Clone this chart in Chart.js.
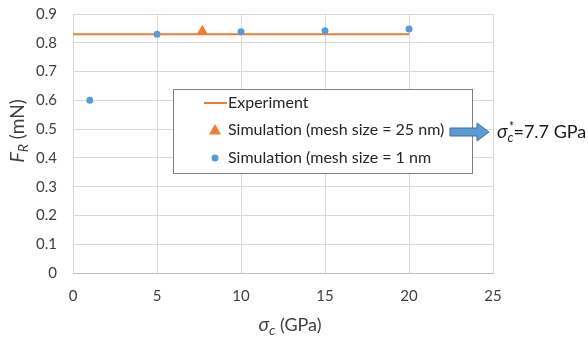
<!DOCTYPE html>
<html><head><meta charset="utf-8">
<script src="https://cdn.jsdelivr.net/npm/chart.js@4/dist/chart.umd.min.js"></script>
<style>html,body{margin:0;padding:0;background:#fff}#wrap{width:588px;height:338px}</style>
</head><body><div id="wrap"><canvas id="c" width="588" height="338"></canvas></div>
<script>
const xTicks = [0, 5, 10, 15, 20, 25];
const yTicks = [0, 0.1, 0.2, 0.3, 0.4, 0.5, 0.6, 0.7, 0.8, 0.9];
const expX = [0, 20];
const expY = [0.83, 0.83];
const sim25X = [7.7];
const sim25Y = [0.84];
const sim1X = [1, 5, 10, 15, 20];
const sim1Y = [0.6, 0.83, 0.838, 0.842, 0.848];
const labels = ['Experiment', 'Simulation (mesh size = 25 nm)', 'Simulation (mesh size = 1 nm'];

const ORANGE = '#ed7d31', BLUE = '#5b9bd5';
const toPts = (xs, ys) => xs.map((x, i) => ({x, y: ys[i]}));
const FONT = 'Lato, "Liberation Sans", sans-serif';

function drawRich(ctx, x, y, segs) {
  let cx = x;
  segs.forEach(s => {
    ctx.font = (s.italic ? 'italic ' : '') + s.size + 'px ' + FONT;
    ctx.fillText(s.t, cx + (s.dx || 0), y + (s.dy || 0));
    if (!s.noAdvance) cx += ctx.measureText(s.t).width;
  });
  return cx - x;
}
function richWidth(ctx, segs) {
  let w = 0;
  segs.forEach(s => { ctx.font = (s.italic ? 'italic ' : '') + s.size + 'px ' + FONT; if (!s.noAdvance) w += ctx.measureText(s.t).width; });
  return w;
}

const deco = {
  id: 'deco',
  afterDatasetsDraw(chart) {
    const ctx = chart.ctx;
    ctx.save();
    // legend box
    const lx = 173, ly = 89, lw = 299, lh = 84;
    ctx.fillStyle = '#fff';
    ctx.fillRect(lx, ly, lw, lh);
    ctx.strokeStyle = '#7f7f7f';
    ctx.lineWidth = 1;
    ctx.strokeRect(lx + 0.5, ly + 0.5, lw, lh);
    ctx.fillStyle = '#262626';
    ctx.textBaseline = 'middle';
    ctx.font = '16px ' + FONT;
    const rows = [103, 130, 158];
    labels.forEach((t, i) => ctx.fillText(t, 228, rows[i]));
    // samples
    ctx.strokeStyle = ORANGE; ctx.lineWidth = 2;
    ctx.beginPath(); ctx.moveTo(204, rows[0]); ctx.lineTo(227, rows[0]); ctx.stroke();
    ctx.fillStyle = ORANGE;
    ctx.beginPath(); ctx.moveTo(215, rows[1] - 6); ctx.lineTo(221, rows[1] + 4.5); ctx.lineTo(209, rows[1] + 4.5); ctx.closePath(); ctx.fill();
    ctx.fillStyle = BLUE;
    ctx.beginPath(); ctx.arc(215, rows[2], 3.5, 0, Math.PI * 2); ctx.fill();
    // arrow
    const ay = 132;
    ctx.beginPath();
    ctx.moveTo(450, ay - 4); ctx.lineTo(477, ay - 4); ctx.lineTo(477, ay - 9);
    ctx.lineTo(489, ay); ctx.lineTo(477, ay + 9); ctx.lineTo(477, ay + 4);
    ctx.lineTo(450, ay + 4); ctx.closePath();
    ctx.fillStyle = BLUE; ctx.fill();
    ctx.strokeStyle = '#41719c'; ctx.lineWidth = 1; ctx.stroke();
    // annotation text
    ctx.fillStyle = '#1a1a1a';
    ctx.textBaseline = 'alphabetic';
    drawRich(ctx, 497, ay + 6, [
      {t: 'σ', size: 19, italic: true},
      {t: '*', size: 13, italic: true, dy: -7, dx: 1, noAdvance: true},
      {t: 'c', size: 13, italic: true, dy: 4},
      {t: '=7.7 GPa', size: 18}
    ]);
    // x title
    ctx.fillStyle = '#404040';
    const xt = [{t: 'σ', size: 19, italic: true}, {t: 'c', size: 14, italic: true, dy: 4}, {t: ' (GPa)', size: 18}];
    const xw = richWidth(ctx, xt);
    drawRich(ctx, 290 - xw / 2, 331, xt);
    // y title
    ctx.translate(24, 131);
    ctx.rotate(-Math.PI / 2);
    const yt = [{t: 'F', size: 20, italic: true}, {t: 'R', size: 14, italic: true, dy: 4}, {t: ' (mN)', size: 19}];
    const yw = richWidth(ctx, yt);
    drawRich(ctx, -yw / 2, 0, yt);
    ctx.restore();
  }
};

new Chart(document.getElementById('c'), {
  type: 'scatter',
  data: {
    datasets: [
      {label: labels[0], data: toPts(expX, expY), showLine: true, borderColor: ORANGE, borderWidth: 2, pointRadius: 0, order: 3},
      {label: labels[1], data: toPts(sim25X, sim25Y), pointStyle: 'triangle', pointRadius: 6.5, backgroundColor: ORANGE, borderColor: ORANGE, borderWidth: 0, order: 1},
      {label: labels[2], data: toPts(sim1X, sim1Y), pointStyle: 'circle', pointRadius: 3.5, backgroundColor: BLUE, borderColor: BLUE, borderWidth: 0, order: 2}
    ]
  },
  options: {
    responsive: false,
    animation: false,
    events: [],
    layout: {padding: {top: 14, right: 95, left: 0, bottom: 0}},
    plugins: {legend: {display: false}, tooltip: {enabled: false}},
    scales: {
      x: {
        type: 'linear', min: 0, max: 25,
        afterBuildTicks: s => { s.ticks = xTicks.map(v => ({value: v})); },
        afterFit: s => { s.height = 65; s.paddingLeft = 0; s.paddingRight = 0; },
        grid: {color: '#d9d9d9', lineWidth: 1, drawTicks: false},
        border: {display: true, color: '#bfbfbf', width: 1},
        ticks: {color: '#404040', font: {family: FONT, size: 15}, padding: 14, maxRotation: 0}
      },
      y: {
        type: 'linear', min: 0, max: 0.9,
        afterBuildTicks: s => { s.ticks = yTicks.map(v => ({value: v})); },
        afterFit: s => { s.width = 73; s.paddingTop = 0; s.paddingBottom = 0; },
        grid: {color: '#d9d9d9', lineWidth: 1, drawTicks: false},
        border: {display: false},
        ticks: {color: '#404040', font: {family: FONT, size: 15}, padding: 16, callback: v => String(Math.round(v * 10) / 10)}
      }
    }
  },
  plugins: [deco]
});
</script></body></html>
